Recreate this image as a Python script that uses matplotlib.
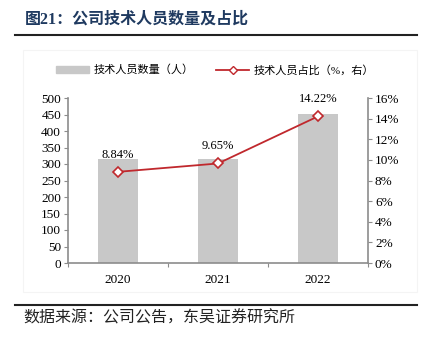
import numpy as np
import matplotlib.pyplot as plt
from matplotlib.patches import Patch, Rectangle
from matplotlib.lines import Line2D
from matplotlib.ticker import MultipleLocator, FuncFormatter

plt.rcParams['font.family'] = ['Liberation Serif', 'Noto Sans CJK SC']

years = ['2020', '2021', '2022']
staff = [314, 315, 452]
ratio = [8.84, 9.65, 14.22]
ratio_labels = ['8.84%', '9.65%', '14.22%']

W, H = 432, 337
fig = plt.figure(figsize=(W / 100, H / 100), dpi=100)

def px(x0, y0, x1, y1):
    return [x0 / W, 1 - y1 / H, (x1 - x0) / W, (y1 - y0) / H]

grey = '#8c8c8c'
red = '#C0282D'
navy = '#1F3A60'

# title and rules
fig.text(25 / W, 1 - 20 / H, '图21：公司技术人员数量及占比', fontsize=11.5,
         fontweight='bold', color=navy, va='center', ha='left')
fig.add_artist(Line2D([15 / W, 417 / W], [1 - 35 / H, 1 - 35 / H], color='#222222', lw=1.5))
fig.add_artist(Line2D([15 / W, 417 / W], [1 - 305 / H, 1 - 305 / H], color='#222222', lw=1.5))
fig.add_artist(Rectangle((23 / W, 1 - 292 / H), 394 / W, 242 / H, transform=fig.transFigure,
                         fill=False, edgecolor='#F4F4F4', lw=0.8))
fig.text(23 / W, 1 - 318 / H, '数据来源：公司公告，东吴证券研究所', fontsize=11.5,
         color='#222222', va='center', ha='left')

x = np.arange(len(years))
ax = fig.add_axes(px(68, 98, 368, 263))
ax.bar(x, staff, width=0.4, color='#C8C8C8', zorder=1)
ax.set_xlim(-0.5, 2.5)
ax.set_ylim(0, 500)
ax.yaxis.set_major_locator(MultipleLocator(50))
ax.set_xticks([-0.5, 0.5, 1.5, 2.5])
ax.set_xticklabels([])
ax.set_xticks(x, minor=True)
ax.set_xticklabels(years, minor=True)
ax.tick_params(axis='x', which='minor', length=0, pad=8, labelsize=9.5)
ax.tick_params(axis='x', which='major', length=3, color=grey)
ax.tick_params(axis='y', length=3, color=grey, labelsize=9.5, pad=2)
for s in ['top', 'right']:
    ax.spines[s].set_visible(False)
for s in ['left', 'bottom']:
    ax.spines[s].set_color(grey)
    ax.spines[s].set_linewidth(1.2)

ax2 = ax.twinx()
ax2.plot(x, ratio, color=red, lw=1.3, marker='D', markersize=5,
         markerfacecolor='white', markeredgecolor=red, markeredgewidth=1.2, zorder=3)
for xi, v, lab in zip(x, ratio, ratio_labels):
    ax2.annotate(lab, (xi, v), xytext=(0, 8), textcoords='offset points',
                 ha='center', va='bottom', fontsize=9)
ax2.set_ylim(0, 16)
ax2.yaxis.set_major_locator(MultipleLocator(2))
ax2.yaxis.set_major_formatter(FuncFormatter(lambda v, p: f'{v:.0f}%'))
ax2.tick_params(axis='y', length=3, color=grey, labelsize=9.5, pad=2)
for s in ['top', 'left', 'bottom']:
    ax2.spines[s].set_visible(False)
ax2.spines['right'].set_color(grey)
ax2.spines['right'].set_linewidth(1.2)

handles = [Patch(color='#C8C8C8'),
           Line2D([], [], color=red, lw=1.3, marker='D', markersize=4,
                  markerfacecolor='white', markeredgecolor=red)]
fig.legend(handles, ['技术人员数量（人）', '技术人员占比（%，右）'],
           loc='center', bbox_to_anchor=(215 / W, 1 - 70 / H), ncol=2,
           frameon=False, fontsize=8, handlelength=3.0, handleheight=0.6,
           columnspacing=2.0, handletextpad=0.4)

fig.savefig('out.png', dpi=100)
